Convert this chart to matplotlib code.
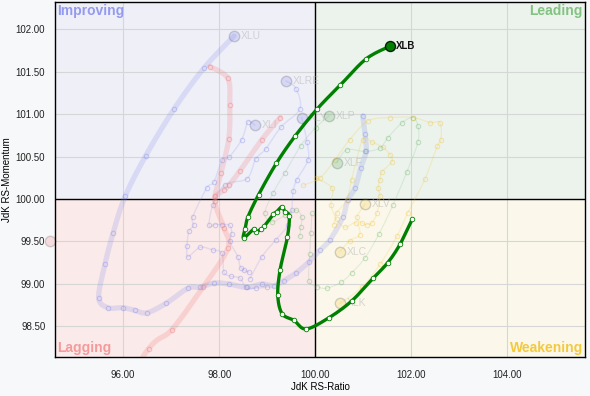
import numpy as np
import matplotlib
matplotlib.use('Agg')
import matplotlib.pyplot as plt
from matplotlib.patches import Rectangle

plt.rcParams['font.family'] = ['Liberation Sans', 'DejaVu Sans']

# ---------------- data (JdK RS-Ratio, JdK RS-Momentum), tail -> head ----------------
xlb_ratio = [102.02, 101.77, 101.51, 101.21, 100.76, 100.28, 99.81, 99.56, 99.31, 99.22, 99.27,
             99.42, 99.46, 99.37, 99.31, 99.20, 99.13, 98.94, 98.88, 98.76, 98.73, 98.51, 98.54,
             98.60, 98.82, 99.19, 99.58, 100.04, 100.52, 101.06, 101.56]
xlb_mom = [99.76, 99.47, 99.25, 99.07, 98.80, 98.60, 98.47, 98.57, 98.65, 98.87, 99.17,
           99.55, 99.80, 99.85, 99.91, 99.85, 99.82, 99.68, 99.65, 99.61, 99.65, 99.54, 99.65,
           99.79, 100.05, 100.42, 100.74, 101.06, 101.34, 101.65, 101.80]

xlu_ratio = [100.99, 101.04, 101.06, 100.95, 100.83, 100.68, 100.58, 100.31, 100.10, 99.87, 99.60,
             99.35, 99.14, 98.89, 98.58, 98.20, 97.89, 97.60, 97.35, 96.89, 96.49, 96.24, 95.99,
             95.68, 95.49, 95.62, 95.79, 96.04, 96.47, 97.06, 97.68, 98.31]
xlu_mom = [100.98, 100.76, 100.56, 100.37, 100.13, 99.99, 99.79, 99.52, 99.40, 99.26, 99.13,
           99.04, 98.98, 99.00, 98.96, 99.00, 99.01, 98.96, 98.95, 98.77, 98.66, 98.69, 98.72,
           98.72, 98.84, 99.23, 99.60, 100.03, 100.51, 101.06, 101.54, 101.92]

xle_ratio = [97.81, 98.18, 98.22, 98.20, 98.04, 97.91, 98.10, 98.18, 97.66, 97.01, 96.53,
             95.41, 93.85, 94.37, 94.47]
xle_mom = [101.56, 101.42, 101.11, 100.71, 100.31, 99.98, 99.66, 99.42, 98.96, 98.46, 98.24,
           97.40, 98.46, 99.26, 99.50]
xle_b_ratio = [99.27, 98.89, 98.43, 98.20, 98.10, 97.91]
xle_b_mom = [100.96, 100.70, 100.33, 100.16, 100.11, 100.03]

xlre_ratio = [98.51, 98.62, 98.45, 98.39, 98.22, 98.26, 98.22, 98.06, 97.91, 97.79, 97.87,
              98.12, 98.58, 98.76, 98.97, 99.29, 99.68, 99.60, 99.39]
xlre_mom = [99.16, 99.14, 99.19, 99.32, 99.50, 99.59, 99.69, 99.70, 99.70, 99.69, 99.93,
            100.17, 100.24, 100.47, 100.59, 100.85, 101.06, 101.30, 101.39]

xli_ratio = [98.99, 98.76, 98.56, 98.43, 98.24, 98.10, 98.06, 97.87, 97.60, 97.35, 97.33,
             97.37, 97.47, 97.45, 97.74, 97.89, 98.06, 98.20, 98.47, 98.60, 98.74]
xli_mom = [98.96, 98.95, 98.96, 99.07, 99.09, 99.14, 99.36, 99.40, 99.43, 99.32, 99.45,
           99.62, 99.69, 99.79, 100.13, 100.20, 100.46, 100.49, 100.70, 100.91, 100.87]

xly_ratio = [98.64, 98.89, 99.18, 99.43, 99.51, 99.54, 99.62, 99.85, 99.83, 99.72]
xly_mom = [99.06, 99.32, 99.52, 99.69, 99.87, 100.09, 100.23, 100.46, 100.67, 100.96]

xlp_ratio = [99.68, 99.70, 99.72, 99.60, 99.37, 99.10, 98.95, 99.12, 99.37, 99.70, 100.01, 100.29]
xlp_mom = [99.56, 99.67, 99.79, 99.87, 99.81, 99.73, 99.83, 100.07, 100.31, 100.63, 100.84, 100.98]

xlf_ratio = [99.93, 99.91, 99.89, 99.87, 100.04, 100.24, 100.54, 100.76, 101.04, 101.33, 101.62,
             101.91, 102.14, 102.14, 102.04, 101.81, 101.51, 101.35, 101.04, 100.66, 100.45]
xlf_mom = [99.83, 99.60, 99.35, 99.04, 98.97, 98.95, 99.02, 99.13, 99.31, 99.59, 99.93,
           100.32, 100.67, 100.86, 100.96, 100.90, 100.72, 100.60, 100.56, 100.58, 100.43]

xlk_ratio = [99.74, 100.10, 100.41, 100.72, 101.10, 101.56, 102.04, 102.39, 102.60, 102.62, 102.54,
             102.29, 101.93, 101.70, 101.35, 100.97, 100.51]
xlk_mom = [100.16, 100.25, 100.46, 100.70, 100.92, 100.96, 100.96, 100.90, 100.90, 100.70, 100.62,
           100.24, 99.84, 99.56, 99.23, 98.96, 98.77]

xlv_ratio = [100.39, 100.45, 100.66, 100.76, 100.99, 101.18, 101.41, 101.56, 101.60, 101.39, 101.35,
             101.31, 101.35, 101.29, 101.18, 101.08, 100.97, 100.87, 101.04]
xlv_mom = [99.70, 99.84, 99.99, 100.23, 100.70, 100.67, 100.61, 100.52, 100.44, 100.32, 100.23,
           100.13, 100.03, 99.84, 99.72, 99.70, 99.72, 99.79, 99.94]

xlc_ratio = [100.01, 100.35, 100.33, 100.45, 100.62, 100.85, 100.93, 100.72, 100.51]
xlc_mom = [100.25, 100.13, 99.93, 99.76, 99.67, 99.72, 99.58, 99.51, 99.38]

x_ticks = [96, 98, 100, 102, 104]
y_ticks = [98.5, 99.0, 99.5, 100.0, 100.5, 101.0, 101.5, 102.0]
x_lim = (94.58, 105.62)
y_lim = (98.14, 102.32)

BLUE, RED, GREEN, YELLOW = '#7c84e6', '#f07878', '#4fa64f', '#f0c232'

# name, x, y, colour, line width, line alpha, marker alpha
faded = [
    ('XLU', xlu_ratio, xlu_mom, BLUE, 3.8, 0.2, 0.35),
    ('XLRE', xlre_ratio, xlre_mom, BLUE, 1.0, 0.18, 0.35),
    ('XLI', xli_ratio, xli_mom, BLUE, 1.0, 0.18, 0.35),
    ('XLY', xly_ratio, xly_mom, BLUE, 1.0, 0.18, 0.35),
    ('XLP', xlp_ratio, xlp_mom, GREEN, 0.8, 0.15, 0.3),
    ('XLF', xlf_ratio, xlf_mom, GREEN, 0.8, 0.15, 0.3),
    ('XLK', xlk_ratio, xlk_mom, YELLOW, 0.9, 0.2, 0.35),
    ('XLV', xlv_ratio, xlv_mom, YELLOW, 0.9, 0.2, 0.35),
    ('XLC', xlc_ratio, xlc_mom, YELLOW, 0.9, 0.2, 0.35),
    ('XLE', xle_ratio, xle_mom, RED, 3.8, 0.22, 0.4),
]


def catmull(xs, ys, n=12):
    p = np.column_stack([xs, ys]).astype(float)
    p = np.vstack([p[0], p, p[-1]])
    out = []
    t = np.linspace(0, 1, n, endpoint=False)[:, None]
    for i in range(1, len(p) - 2):
        p0, p1, p2, p3 = p[i - 1], p[i], p[i + 1], p[i + 2]
        seg = 0.5 * (2 * p1 + (-p0 + p2) * t + (2 * p0 - 5 * p1 + 4 * p2 - p3) * t ** 2
                     + (-p0 + 3 * p1 - 3 * p2 + p3) * t ** 3)
        out.append(seg)
    out.append(p[-2][None, :])
    o = np.vstack(out)
    return o[:, 0], o[:, 1]


fig = plt.figure(figsize=(5.90, 3.96), dpi=100, facecolor='#f7f8fa')
ax = fig.add_axes([55 / 590, 1 - 357 / 396, 530 / 590, 355 / 396])
ax.set_xlim(*x_lim)
ax.set_ylim(*y_lim)

# quadrants
x0, x1 = x_lim
y0, y1 = y_lim
ax.add_patch(Rectangle((x0, 100), 100 - x0, y1 - 100, color='#efeff8', zorder=0))
ax.add_patch(Rectangle((100, 100), x1 - 100, y1 - 100, color='#ecf3ec', zorder=0))
ax.add_patch(Rectangle((x0, y0), 100 - x0, 100 - y0, color='#fbeaea', zorder=0))
ax.add_patch(Rectangle((100, y0), x1 - 100, 100 - y0, color='#fbf8eb', zorder=0))

ax.set_xticks(x_ticks)
ax.set_yticks(y_ticks)
ax.set_xticklabels([f'{v:.2f}' for v in x_ticks])
ax.set_yticklabels([f'{v:.2f}' for v in y_ticks])
ax.grid(True, color='#d6d6d6', lw=0.8, zorder=0.5)
ax.set_axisbelow(True)
ax.tick_params(length=0, labelsize=7, pad=7, colors='#222222')
ax.tick_params(axis='x', pad=9)
ax.axhline(100, color='black', lw=1, zorder=1)
ax.axvline(100, color='black', lw=1, zorder=1)
for s in ax.spines.values():
    s.set_color('black')
    s.set_linewidth(1)

ax.set_xlabel('JdK RS-Ratio', fontsize=7, labelpad=2)
ax.set_ylabel('JdK RS-Momentum', fontsize=7, labelpad=3)

# quadrant labels
qkw = dict(fontsize=10, fontweight='bold', transform=ax.transAxes, zorder=6)
ax.text(0.004, 0.993, 'Improving', color='#949aee', ha='left', va='top', **qkw)
ax.text(0.996, 0.993, 'Leading', color='#82c282', ha='right', va='top', **qkw)
ax.text(0.004, 0.006, 'Lagging', color='#f59a9a', ha='left', va='bottom', **qkw)
ax.text(0.996, 0.006, 'Weakening', color='#f4c93c', ha='right', va='bottom', **qkw)

# faded tails
for name, xs, ys, col, lw, a, ma in faded:
    sx, sy = catmull(xs, ys)
    ax.plot(sx, sy, color=col, lw=lw, alpha=a, solid_capstyle='round', zorder=2)
    ax.plot(xs[:-1], ys[:-1], 'o', ms=3.2, mfc='none', mec=col, mew=0.8, alpha=ma, zorder=2.2)
    ax.plot(xs[-1], ys[-1], 'o', ms=7.5, mfc=col, mec='#444444', mew=1.0, alpha=0.22,
            zorder=2.5, clip_on=False)
    ax.annotate(name, (xs[-1], ys[-1]), xytext=(5, 0), textcoords='offset points',
                va='center', ha='left', fontsize=7.5, color='#b0b0b0', alpha=0.5, zorder=2.5)

sx, sy = catmull(xle_b_ratio, xle_b_mom)
ax.plot(sx, sy, color=RED, lw=3.8, alpha=0.22, solid_capstyle='round', zorder=2)
ax.plot(xle_b_ratio, xle_b_mom, 'o', ms=3.2, mfc='none', mec=RED, mew=0.8, alpha=0.4, zorder=2.2)

# highlighted XLB tail
sx, sy = catmull(xlb_ratio, xlb_mom)
ax.plot(sx, sy, color='#008000', lw=2.4, solid_capstyle='round', zorder=5)
ax.plot(xlb_ratio[:-1], xlb_mom[:-1], 'o', ms=3.3, mfc='white', mec='#008000', mew=0.6, zorder=6)
ax.plot(xlb_ratio[-1], xlb_mom[-1], 'o', ms=7.2, mfc='#008000', mec='#002200', mew=1.0, zorder=7)
ax.annotate('XLB', (xlb_ratio[-1], xlb_mom[-1]), xytext=(4.5, 0), textcoords='offset points',
            va='center', ha='left', fontsize=7, fontweight='bold', color='#111111', zorder=7)

fig.savefig('out.png', dpi=100, facecolor=fig.get_facecolor())
